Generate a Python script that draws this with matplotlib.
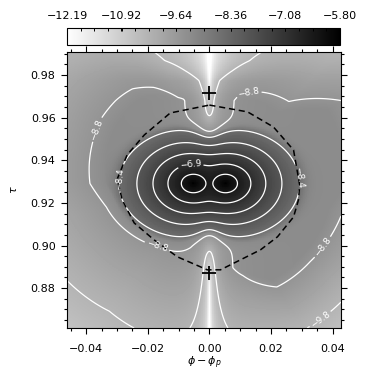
import numpy as np
import matplotlib
matplotlib.use('Agg')
import matplotlib.pyplot as plt
from matplotlib.ticker import MultipleLocator, FixedLocator

# ---- values ----
phi_lim = (-0.0462, 0.0427)
tau_lim = (0.8613, 0.9908)

cbar_ticks = [-12.19, -10.92, -9.64, -8.36, -7.08, -5.80]
cbar_labels = ['\u221212.19', '\u221210.92', '\u22129.64', '\u22128.36', '\u22127.08', '\u22125.80']

# dark maxima (two wells)
well_phi = [-0.0052, 0.0052]
well_tau = [0.9291, 0.9291]
well_peak = -5.80

# the two X points (+)
xpt_phi = [0.0, 0.0]
xpt_tau = [0.9715, 0.8872]

# dashed separatrix
sep_phi = [0.0000, 0.0124, 0.0208, 0.0273, 0.0293, 0.0289, 0.0273, 0.0221, 0.0166,
           0.0101, 0.0036, -0.0007, -0.0029, -0.0104, -0.0179, -0.0244, -0.0283,
           -0.0299, -0.0267, -0.0211, -0.0127, 0.0000]
sep_tau = [0.9659, 0.9627, 0.9556, 0.9448, 0.9284, 0.9214, 0.9134, 0.9041, 0.8980,
           0.8933, 0.8886, 0.8886, 0.8900, 0.8947, 0.9026, 0.9106, 0.9214,
           0.9312, 0.9425, 0.9519, 0.9622, 0.9659]

# outer (-8.8) contour: distance from centre (px) and fall-off against angle (deg)
ring_ang = [0, 32, 46, 90, 110, 120, 129, 149, 180, 193, 213, 232, 270, 290, 303, 322, 348]
ring_rad = [150, 157, 116, 105, 105, 119, 126, 127, 119, 102, 90, 80, 86, 105, 125, 128, 136]
ring_slope = [0.012, 0.012, 0.012, 0.012, 0.012, 0.012, 0.012, 0.012, 0.012, 0.012,
              0.012, 0.012, 0.012, 0.016, 0.02, 0.02, 0.014]

# width of the light stripe along phi = phi_p (px), below and above the centre
strip_y = [-150, -83, 83, 103, 113, 123, 140]
strip_c = [18, 18, 19, 32, 62, 88, 100]

# grey shading against contoured value (the image is lighter outside the separatrix)
shade_in = [-12.19, -10.0, -9.6, -8.8, -8.6, -8.4, -5.80]
shade_out = [-12.19, -10.45, -10.15, -9.5, -9.3, -8.5, -5.80]

levels = [-9.8, -8.8, -8.4, -7.9, -7.4, -6.9, -6.4]

labels_at = {
    -6.9: [(-0.0062, 0.9402)],
    -8.4: [(-0.0257, 0.9308), (0.0237, 0.9308)],
    -8.8: [(-0.0387, 0.9556), (0.0133, 0.9669), (-0.0169, 0.9003), (0.0338, 0.9026)],
    -9.8: [(0.0345, 0.8684)],
}

# ---- field ----
PX_PHI = 0.04 / 123.0
PX_TAU = 0.1 / 213.3
tau_c = 0.9291

phi = np.linspace(phi_lim[0], phi_lim[1], 400)
tau = np.linspace(tau_lim[0], tau_lim[1], 400)
P, T = np.meshgrid(phi, tau)
X = P / PX_PHI
Y = (T - tau_c) / PX_TAU

acc = 0
for wp, wt in zip(well_phi, well_tau):
    r = np.hypot((P - wp) / PX_PHI, 1.3 * (T - wt) / PX_TAU)
    acc = acc + 10 ** (-3 * 0.6 * (r / 12) ** 0.81)
w = well_peak + np.log10(acc) / 3

rho = np.hypot(X, Y)
ang = np.degrees(np.arctan2(Y, X)) % 360
R = np.interp(ang, ring_ang, ring_rad, period=360)
S = np.interp(ang, ring_ang, ring_slope, period=360)
ring = np.minimum(-8.8 + S * (R - rho), -8.6)
base = np.log10(10 ** (4 * w) + 10 ** (4 * ring)) / 4

c = np.interp(Y, strip_y, strip_c)
ratio = np.clip(np.exp(-((np.clip(np.abs(Y) - 15, 0, None)) / 44.6) ** 2), 0.02, 1)
e = c * ratio
Z = base + np.log10((X ** 2 + e ** 2) / (X ** 2 + c ** 2))
Z = np.clip(Z, cbar_ticks[0], cbar_ticks[-1])

Zimg = np.interp(Z, shade_in, shade_out)

# ---- figure ----
fig = plt.figure(figsize=(3.70, 3.86), dpi=100)
ax = fig.add_axes([67 / 370, 1 - 328 / 386, 274 / 370, 276 / 386])
cax = fig.add_axes([67 / 370, 1 - 45 / 386, 273 / 370, 17 / 386])

im = ax.imshow(Zimg, origin='lower', extent=[*phi_lim, *tau_lim], aspect='auto',
               cmap='gray_r', vmin=cbar_ticks[0], vmax=cbar_ticks[-1],
               interpolation='nearest')

fmt = lambda v: ('%.1f' % v).replace('-', '\u2212')
for lv in levels:
    cs = ax.contour(P, T, Z, levels=[lv], colors='white', linewidths=0.9,
                    linestyles='solid')
    if lv in labels_at:
        ax.clabel(cs, manual=labels_at[lv], fmt=fmt, fontsize=6.5, colors='white',
                  inline=True, inline_spacing=2)

ax.plot(sep_phi, sep_tau, color='black', lw=1.1, ls=(0, (4, 2.5)))
ax.plot(xpt_phi, xpt_tau, '+', color='black', ms=10, mew=1.3)

ax.set_xlim(phi_lim)
ax.set_ylim(tau_lim)
ax.xaxis.set_major_locator(MultipleLocator(0.02))
ax.xaxis.set_minor_locator(MultipleLocator(0.005))
ax.yaxis.set_major_locator(MultipleLocator(0.02))
ax.yaxis.set_minor_locator(MultipleLocator(0.005))
ax.xaxis.set_major_formatter(plt.FuncFormatter(lambda v, p: ('%.2f' % v).replace('-', '\u2212')))
ax.yaxis.set_major_formatter(plt.FuncFormatter(lambda v, p: '%.2f' % v))
ax.tick_params(which='both', direction='out', top=True, right=True, labelsize=8, width=0.8)
ax.tick_params(which='major', length=4.2)
ax.tick_params(which='minor', length=2.2)
ax.tick_params(axis='x', pad=7)
ax.tick_params(axis='y', pad=4)
for s in ax.spines.values():
    s.set_linewidth(0.8)

ax.set_xlabel(r'$\phi-\phi_p$', fontsize=8, labelpad=1)
ax.set_ylabel(r'$\tau$', fontsize=8)
ax.yaxis.set_label_coords(-0.175, 0.5)

cb = fig.colorbar(im, cax=cax, orientation='horizontal')
cb.set_ticks(cbar_ticks)
cb.set_ticklabels(cbar_labels)
cax.xaxis.set_ticks_position('top')
cax.xaxis.set_label_position('top')
cax.xaxis.set_minor_locator(FixedLocator(np.linspace(cbar_ticks[0], cbar_ticks[-1], 21)))
cax.tick_params(which='both', direction='in', length=2.5, width=0.7, labelsize=8, pad=5)
cb.outline.set_linewidth(0.8)

fig.savefig('out.png', dpi=100)
